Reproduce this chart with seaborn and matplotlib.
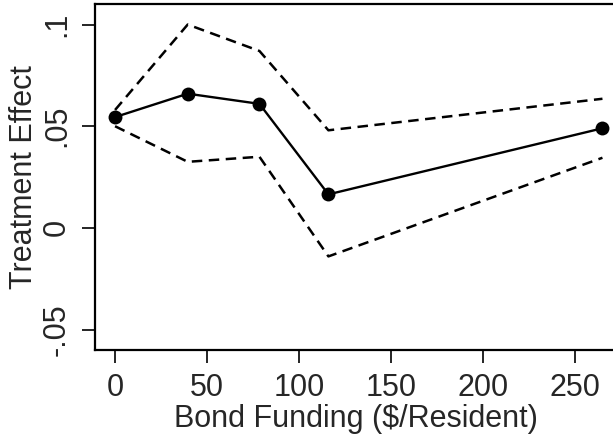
import pandas as pd
import seaborn as sns
import matplotlib.pyplot as plt

# data
funding = [0, 39.5, 78.5, 116, 265]
effect = [0.0545, 0.066, 0.061, 0.0165, 0.049]
ci_upper = [0.058, 0.100, 0.087, 0.048, 0.0635]
ci_lower = [0.050, 0.0325, 0.035, -0.014, 0.0345]

x_ticks = [0, 50, 100, 150, 200, 250]
y_ticks = [-0.05, 0, 0.05, 0.1]
y_tick_labels = ["-.05", "0", ".05", ".1"]

df = pd.DataFrame({"funding": funding, "effect": effect,
                   "upper": ci_upper, "lower": ci_lower})

sns.set_theme(style="ticks")
plt.rcParams["font.family"] = ["Liberation Sans", "DejaVu Sans"]

fig = plt.figure(figsize=(6.13, 4.43), dpi=100)
ax = fig.add_axes([0.155, 0.21, 0.85, 0.781])

# confidence bands (dashed) and point estimates
dash = (0, (4.2, 2.6))
sns.lineplot(data=df, x="funding", y="upper", color="black", lw=1.8, linestyle=dash, ax=ax)
sns.lineplot(data=df, x="funding", y="lower", color="black", lw=1.8, linestyle=dash, ax=ax)
sns.lineplot(data=df, x="funding", y="effect", color="black", lw=1.7,
             marker="o", markersize=10, markeredgewidth=0, ax=ax)

ax.set_xlim(-10.9, 272.4)
ax.set_ylim(-0.06, 0.1101)
ax.set_xticks(x_ticks)
ax.set_yticks(y_ticks)
ax.set_yticklabels(y_tick_labels, rotation=90, va="center")

ax.set_xlabel("Bond Funding ($/Resident)", fontsize=22, labelpad=1)
ax.set_ylabel("Treatment Effect", fontsize=22, labelpad=2)
ax.tick_params(axis="both", labelsize=22, length=9.5, width=1.2, color="black", pad=7)

for side in ["left", "bottom", "top"]:
    ax.spines[side].set_linewidth(1.6)
    ax.spines[side].set_color("black")
ax.spines["right"].set_visible(False)

fig.savefig("out.png", dpi=100)
